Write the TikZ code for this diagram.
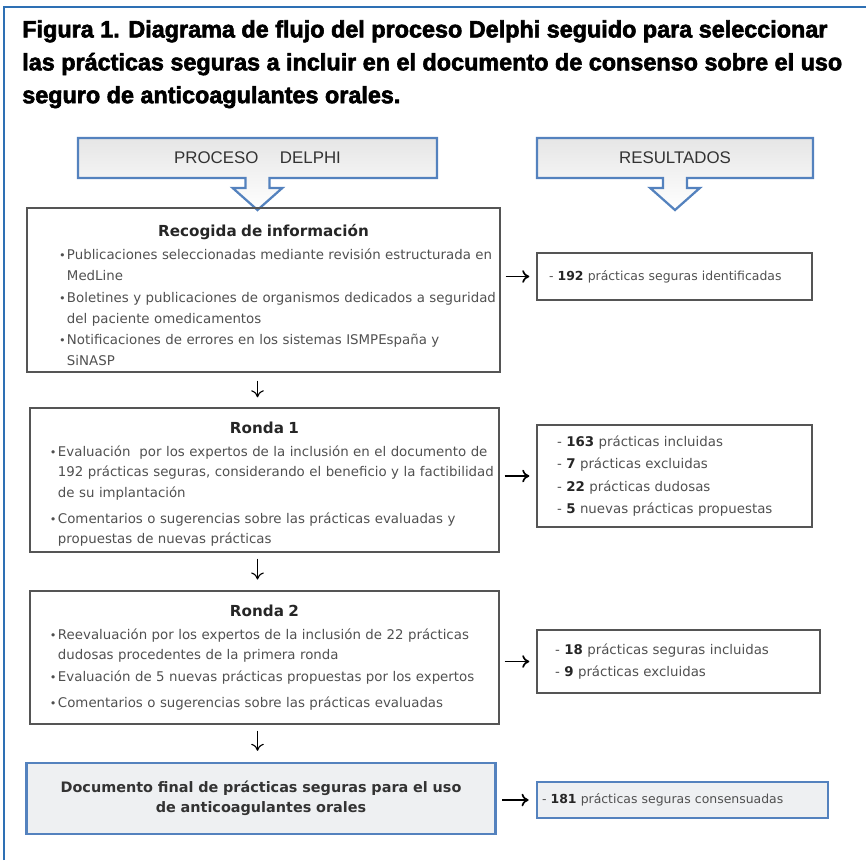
\documentclass[tikz,border=0pt]{standalone}
\usepackage{fontspec}
\setmainfont{DejaVu Sans}
\newfontfamily\figfont[FakeStretch=0.99,BoldFeatures={FakeBold=2.5}]{Liberation Sans}
\newfontfamily\headfont{Liberation Sans}
\usepackage{tikz}
\usetikzlibrary{positioning}
\usetikzlibrary{calc}
\usetikzlibrary{arrows.meta}
\definecolor{frameblue}{RGB}{46,112,180}
\definecolor{calloutblue}{RGB}{84,130,190}
\definecolor{boxgray}{RGB}{85,85,85}
\definecolor{textgray}{RGB}{80,80,80}
\definecolor{finalgray}{RGB}{238,240,242}
\newcommand{\itm}[1][0.45cm]{\hspace*{#1}\makebox[0.2cm][l]{\footnotesize\textbullet}}
\newcommand{\contline}[1][0.45cm]{\hspace*{#1}\hspace*{0.2cm}}
\newcommand{\boxtitle}{\color{black!85}\fontsize{10.8}{13}\selectfont\bfseries}
\newcommand{\nbr}[1]{{\color{black!85}\bfseries #1}}
\tikzset{
  pics/head_callout/.style args={#1,#2,#3}{
     code={
       \draw[calloutline] (-#3,0.5) -- (#3,0.5) -- (#3,-0.5) -- (0.3,-0.5) -- (0.3,-0.75) -- (0.62,-0.75)
          -- (0,-1.3) -- (-0.62,-0.75) -- (-0.3,-0.75) -- (-0.3,-0.5) -- (-#3,-0.5) -- cycle;
       \node[headtext] (#1) at (0,0) {#2};
     }
  }
}

\begin{document}
\begin{tikzpicture}
    [stepbox/.style={draw=boxgray, line width=1pt, inner xsep=0.05cm, align=left, text=textgray, font=\fontsize{9.5}{14.5}\selectfont},
     resbox/.style={draw=boxgray, line width=1pt, align=left, text=textgray, font=\fontsize{9.5}{16}\selectfont},
     finalbox/.style={draw=calloutblue, line width=2pt, fill=finalgray, align=center, text=black!80, font=\fontsize{10.25}{14}\selectfont\bfseries},
     finalres/.style={draw=calloutblue, line width=2pt, fill=finalgray, align=left, text=textgray, font=\fontsize{8.85}{14}\selectfont},
     calloutline/.style={draw=calloutblue, line width=1.6pt, top color=black!10, bottom color=white},
     headtext/.style={text=black!80, font=\headfont\fontsize{12}{14}\selectfont},
     figtitle/.style={align=left, inner sep=0pt, font=\figfont\bfseries\fontsize{16.8}{23.4}\selectfont},
     >={To[length=5pt,width=9pt]}]
     \useasboundingbox (0,0) rectangle (21.65,-21.5);
     \draw[frameblue, line width=1.5pt] (0.1,-21.5) -- (0.1,-0.175) -- (21.65,-0.175);
     \node[figtitle, anchor=north west] (caption) at (0.55,-0.5)
        {Figura 1. Diagrama de flujo del proceso Delphi seguido para seleccionar\\
         las prácticas seguras a incluir en el documento de consenso sobre el uso\\
         seguro de anticoagulantes orales.};
     \draw[] (6.4375,-3.95) pic{head_callout={hp,PROCESO\quad\ DELPHI,4.49}};
     \draw[] (16.875,-3.95) pic{head_callout={hr,RESULTADOS,3.45}};
     \node[stepbox, text width=11.725cm, minimum height=4.1cm] (P1) at (6.5875,-7.25)
        {\makebox[\linewidth]{\boxtitle Recogida de información}\\[2pt]
         \itm[0.75cm]Publicaciones seleccionadas mediante revisión estructurada en\\[0.5pt]
         \contline[0.75cm]MedLine\\[0.5pt]
         \itm[0.75cm]Boletines y publicaciones de organismos dedicados a seguridad\\[0.5pt]
         \contline[0.75cm]del paciente omedicamentos\\[0.5pt]
         \itm[0.75cm]Notificaciones de errores en los sistemas ISMPEspaña y\\[0.5pt]
         \contline[0.75cm]SiNASP\par\vspace*{-0.25cm}};
     \node[stepbox, text width=11.625cm, minimum height=3.6cm] (P2) at (6.6125,-12.0)
        {\makebox[\linewidth]{\boxtitle Ronda 1}\\[2pt]
         \itm Evaluación \ por los expertos de la inclusión en el documento de\\
         \contline 192 prácticas seguras, considerando el beneficio y la factibilidad\\
         \contline de su implantación\\[4pt]
         \itm Comentarios o sugerencias sobre las prácticas evaluadas y\\
         \contline propuestas de nuevas prácticas\par\vspace*{-0.2cm}};
     \node[stepbox, text width=11.625cm, minimum height=3.325cm] (P3) at (6.6125,-16.4375)
        {\makebox[\linewidth]{\boxtitle Ronda 2}\\[2pt]
         \itm Reevaluación por los expertos de la inclusión de 22 prácticas\\
         \contline dudosas procedentes de la primera ronda\\[1pt]
         \itm Evaluación de 5 nuevas prácticas propuestas por los expertos\\[4pt]
         \itm Comentarios o sugerencias sobre las prácticas evaluadas};
     \node[finalbox, text width=11.5cm, minimum height=1.775cm] (P4) at (6.525,-19.9625)
        {Documento final de prácticas seguras para el uso\\ de anticoagulantes orales};
     \node[resbox, inner xsep=0.3cm, text width=6.275cm, minimum height=1.175cm, font=\fontsize{8.85}{16}\selectfont] (R1) at (16.8625,-6.9125)
        {- \nbr{192} prácticas seguras identificadas};
     \node[resbox, inner xsep=0.5cm, text width=5.875cm, minimum height=2.55cm] (R2) at (16.8625,-11.9)
        {- \nbr{163} prácticas incluidas\\
         - \nbr{7} prácticas excluidas\\
         - \nbr{22} prácticas dudosas\\
         - \nbr{5} nuevas prácticas propuestas};
     \node[resbox, inner xsep=0.45cm, text width=6.175cm, minimum height=1.575cm] (R3) at (16.9625,-16.5375)
        {- \nbr{18} prácticas seguras incluidas\\
         - \nbr{9} prácticas excluidas};
     \node[finalres, inner xsep=0.125cm, text width=7.025cm, minimum height=0.9cm] (R4) at (17.0625,-20.0)
        {- \nbr{181} prácticas seguras consensuadas};
     \draw[->, thick, shorten <=0.2cm, shorten >=0.25cm] (P1.south -| hp) -- (P2.north -| hp);
     \draw[->, thick, shorten <=0.15cm, shorten >=0.27cm] (P2.south -| hp) -- (P3.north -| hp);
     \draw[->, thick, shorten <=0.15cm, shorten >=0.27cm] (P3.south -| hp) -- (P4.north -| hp);
     \draw[->, very thick, shorten <=0.125cm, shorten >=0.175cm] (R1.west -| P1.east) -- (R1.west);
     \draw[->, very thick, shorten <=0.125cm, shorten >=0.175cm] (R2.west -| P2.east) -- (R2.west);
     \draw[->, very thick, shorten <=0.125cm, shorten >=0.175cm] (R3.west -| P3.east) -- (R3.west);
     \draw[->, very thick, shorten <=0.125cm, shorten >=0.175cm] (R4.west -| P4.east) -- (R4.west);
\end{tikzpicture}
\end{document}
